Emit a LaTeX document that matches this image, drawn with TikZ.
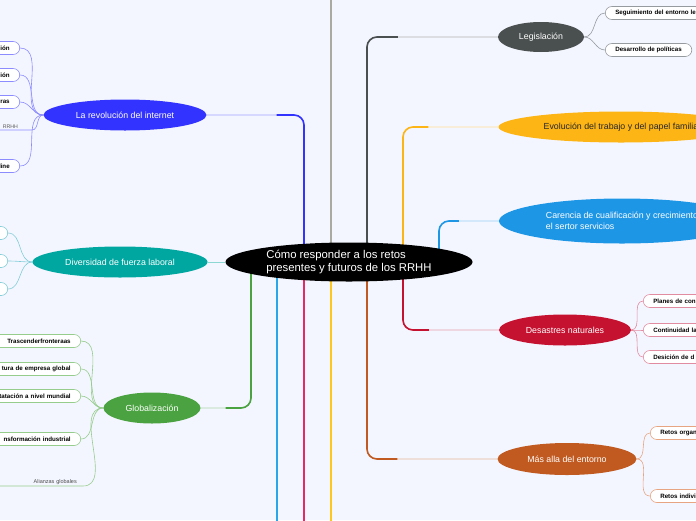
\documentclass[tikz,border=0pt]{standalone}
\usepackage{fontspec}
\setmainfont{Liberation Sans}
\usepackage{xcolor}
\definecolor{bgcol}{RGB}{244,246,255}
\definecolor{netblue}{RGB}{51,51,255}
\definecolor{divteal}{RGB}{0,166,160}
\definecolor{globgreen}{RGB}{74,163,64}
\definecolor{leggray}{RGB}{74,79,79}
\definecolor{evoyellow}{RGB}{253,181,21}
\definecolor{carblue}{RGB}{30,150,230}
\definecolor{desred}{RGB}{196,18,48}
\definecolor{masorange}{RGB}{192,90,32}
\definecolor{topgray}{RGB}{168,172,160}
\definecolor{lowblue}{RGB}{40,165,235}
\definecolor{lowpink}{RGB}{232,40,100}
\definecolor{lowyellow}{RGB}{253,200,30}
\definecolor{legpale}{RGB}{150,155,160}
\definecolor{despale}{RGB}{225,140,160}
\definecolor{maspale}{RGB}{232,165,130}
\definecolor{netpale}{RGB}{140,140,255}
\definecolor{globpale}{RGB}{150,205,140}
\definecolor{divpale}{RGB}{130,205,215}
\usetikzlibrary{shapes.geometric,positioning}
\pgfdeclarelayer{bg}
\pgfdeclarelayer{edges}
\pgfsetlayers{bg,edges,main}

\begin{document}
\begin{tikzpicture}[x=1pt, y=-1pt,
    topic/.style={ellipse, inner sep=0pt, minimum height=31pt, text=white, font=\fontsize{8.8}{11}\selectfont},
    pill/.style={draw, rounded corners=6.5pt, fill=white, minimum height=13pt, inner xsep=10pt, inner ysep=0pt, line width=0.6pt, font=\bfseries\fontsize{6.2}{7}\selectfont},
    cutright/.style={anchor=west, text width=60pt, align=left},
    cutleft/.style={anchor=east, text width=60pt, align=right},
    trunk/.style={line width=1.6pt, rounded corners=10pt},
    twig/.style={line width=0.9pt, rounded corners=10pt},
    leaf/.style={line width=0.6pt}]
    \useasboundingbox (0,0) rectangle (696,520);
    \begin{pgfonlayer}{bg}
        \fill[bgcol] (0,0) rectangle (696,520);
    \end{pgfonlayer}

    % Central topic
    \node[ellipse, fill=black, text=white, align=left, inner sep=0pt, minimum width=247pt, minimum height=39pt, font=\fontsize{11.3}{12.8}\selectfont] (root) at (349,262) {Cómo responder a los retos\\presentes y futuros de los RRHH};

    % Main topics
    \node[topic, fill=netblue, minimum width=163pt] (net) at (125,115) {La revolución del internet};
    \node[topic, fill=divteal, minimum width=175pt] (div) at (120,262) {Diversidad de fuerza laboral};
    \node[topic, fill=globgreen, minimum width=97pt] (glob) at (152,408) {Globalización};
    \node[topic, fill=leggray, minimum width=86pt, minimum height=30pt] (leg) at (541,37) {Legislación};
    \node[topic, fill=evoyellow, text=black!85, minimum width=245pt] (evo) at (621,127) {Evolución del trabajo y del papel familia};
    \node[topic, fill=carblue, minimum width=246pt, minimum height=45pt, align=left] (car) at (622,221) {Carencia de cualificación y crecimiento\\el sertor servicios};
    \node[topic, fill=desred, minimum width=132pt] (des) at (565,330) {Desastres naturales};
    \node[topic, fill=masorange, minimum width=139pt, minimum height=32pt] (mas) at (567,459) {Más alla del entorno};

    % Subtopics right
    \node[pill, draw=legpale, cutright, text width=110pt] (leg1) at (605,13) {Seguimiento del entorno le};
    \node[pill, draw=legpale, anchor=west] (leg2) at (605,50) {Desarrollo de políticas};
    \foreach \nm/\y/\txt in {des1/301/Planes de con, des2/330/Continuidad la, des3/357/Desición de d}
        \node[pill, draw=despale, cutright] (\nm) at (643,\y) {\txt};
    \foreach \nm/\y/\txt in {mas1/433/Retos organ, mas2/496/Retos indivi}
        \node[pill, draw=maspale, cutright] (\nm) at (650,\y) {\txt};

    % Subtopics left
    \foreach \nm/\y/\txt in {net1/48/ión, net2/75/ción, net3/102/eras, net5/166/line}
        \node[pill, draw=netpale, cutleft] (\nm) at (20,\y) {\txt};
    \node[anchor=south east, text width=40pt, align=right, inner xsep=14pt, inner ysep=1.5pt, text=black!65, font=\fontsize{5.2}{6}\selectfont] (net4) at (32,130) {RRHH};
    \foreach \nm/\y in {div1/233, div2/261, div3/289}
        \node[pill, draw=divpale, anchor=east, minimum width=40pt] (\nm) at (8,\y) {};
    \foreach \nm/\y/\txt in {glob1/341/Trascenderfronteraas, glob2/369/tura de empresa global, glob3/396/tatación a nivel mundial, glob4/439/nsformación industrial}
        \node[pill, draw=globpale, cutleft, text width=80pt] (\nm) at (81,\y) {\txt};
    \node[anchor=south east, text width=75pt, align=right, inner xsep=6pt, inner ysep=1.5pt, text=black!70, font=\fontsize{5.5}{6}\selectfont] (glob5) at (83,486) {Alianzas globales};

    % Off-page ends
    \coordinate (gray-top) at (331,-5);
    \coordinate (blue-low) at (277,525);
    \coordinate (pink-low) at (304,525);
    \coordinate (yellow-low) at (331,525);

    \begin{pgfonlayer}{edges}
        % Branches from the central topic
        \draw[trunk, topgray] ([xshift=-18pt]root.center) -- (gray-top);
        \draw[trunk, lowblue] ([xshift=-72pt]root.center) -- (blue-low);
        \draw[trunk, lowpink] ([xshift=-45pt]root.center) -- (pink-low);
        \draw[trunk, lowyellow] ([xshift=-18pt]root.center) -- (yellow-low);

        \draw[twig, netblue!45] ([xshift=-45pt]root.center) |- (net.east);
        \draw[trunk, netblue] ([xshift=-45pt]root.center) |- ([xshift=70pt]net.east);
        \draw[twig, divteal!45] (root.west) -- (div.east);
        \draw[twig, globgreen!45] ([xshift=-98pt]root.center) |- (glob.east);
        \draw[trunk, globgreen] ([xshift=-98pt]root.center) |- ([xshift=25pt]glob.east);
        \draw[twig, leggray!45] ([xshift=18pt]root.center) |- (leg.west);
        \draw[trunk, leggray] ([xshift=18pt]root.center) |- ([xshift=-100pt]leg.west);
        \draw[twig, evoyellow!45] ([xshift=54pt]root.center) |- (evo.west);
        \draw[trunk, evoyellow] ([xshift=54pt]root.center) |- ([xshift=-70pt]evo.west);
        \draw[twig, carblue!45] ([xshift=90pt]root.center) |- (car.west);
        \draw[trunk, carblue] ([xshift=90pt]root.center) |- ([xshift=-40pt]car.west);
        \draw[twig, desred!40] ([xshift=54pt]root.center) |- (des.west);
        \draw[trunk, desred] ([xshift=54pt]root.center) |- ([xshift=-70pt]des.west);
        \draw[twig, masorange!45] ([xshift=18pt]root.center) |- (mas.west);
        \draw[trunk, masorange] ([xshift=18pt]root.center) |- ([xshift=-100pt]mas.west);

        % Subtopic connectors
        \foreach \nm in {leg1, leg2}
            \draw[leaf, legpale] (leg.east) to[out=0, in=180] (\nm.west);
        \foreach \nm in {des1, des2, des3}
            \draw[leaf, despale] (des.east) to[out=0, in=180] (\nm.west);
        \foreach \nm in {mas1, mas2}
            \draw[leaf, maspale] (mas.east) to[out=0, in=180] (\nm.west);
        \foreach \nm in {net1, net2, net3, net5}
            \draw[leaf, netpale] (net.west) to[out=180, in=0] (\nm.east);
        \draw[leaf, netpale] (net.west) to[out=180, in=0] (net4.south east) -- (net4.south west);
        \foreach \nm in {div1, div2, div3}
            \draw[leaf, divpale] (div.west) to[out=180, in=0] (\nm.east);
        \foreach \nm in {glob1, glob2, glob3, glob4}
            \draw[leaf, globpale] (glob.west) to[out=180, in=0] (\nm.east);
        \draw[leaf, globpale] (glob.west) to[out=180, in=0] (glob5.south east) -- (glob5.south west);
    \end{pgfonlayer}
\end{tikzpicture}
\end{document}
